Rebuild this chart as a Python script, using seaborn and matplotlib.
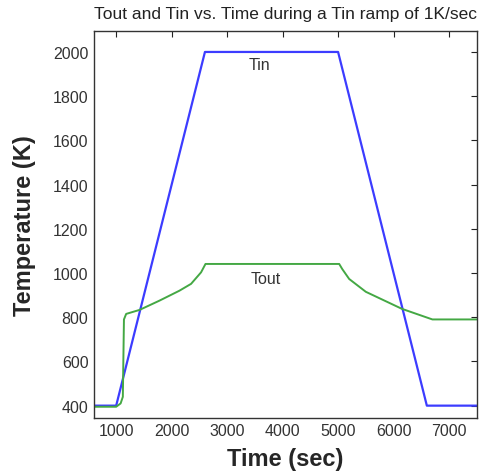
import matplotlib
matplotlib.use("Agg")
import matplotlib.pyplot as plt
import seaborn as sns
import pandas as pd

# Data
tin_time = [600, 1000, 2600, 5000, 6600, 7500]
tin_temp = [400, 400, 2000, 2000, 400, 400]

tout_time = [600, 1000, 1080, 1120, 1140, 1180, 1420, 1780, 2140, 2350, 2530, 2610,
             5020, 5075, 5200, 5500, 6150, 6700, 7500]
tout_temp = [395, 395, 410, 440, 790, 815, 833, 875, 920, 951, 1003, 1041,
             1041, 1018, 973, 915, 838, 790, 790]

x_ticks = [1000, 2000, 3000, 4000, 5000, 6000, 7000]
y_ticks = [400, 600, 800, 1000, 1200, 1400, 1600, 1800, 2000]

title = "Tout and Tin vs. Time during a Tin ramp of 1K/sec"

sns.set_style("white")
plt.rcParams["font.family"] = ["Liberation Sans", "DejaVu Sans"]

df_in = pd.DataFrame({"time": tin_time, "temp": tin_temp})
df_out = pd.DataFrame({"time": tout_time, "temp": tout_temp})

fig = plt.figure(figsize=(4.87, 4.77), dpi=100)
ax = fig.add_axes([0.193, 0.122, 0.786, 0.811])

sns.lineplot(data=df_in, x="time", y="temp", ax=ax, color="#3c3cff", lw=1.6,
             sort=False, estimator=None)
sns.lineplot(data=df_out, x="time", y="temp", ax=ax, color="#44a844", lw=1.4,
             sort=False, estimator=None)

ax.set_xlim(600, 7500)
ax.set_ylim(345, 2095)
ax.set_xticks(x_ticks)
ax.set_yticks(y_ticks)
ax.tick_params(direction="in", length=4, width=0.8, top=True, right=True,
               labelsize=11.5, colors="#222222", pad=4)
for lbl in ax.get_xticklabels() + ax.get_yticklabels():
    lbl.set_color("#333333")
for s in ax.spines.values():
    s.set_color("#333333")
    s.set_linewidth(1.0)
    s.set_visible(True)

ax.set_xlabel("Time (sec)", fontsize=17, fontweight="bold", labelpad=6)
ax.set_ylabel("Temperature (K)", fontsize=17, fontweight="bold", labelpad=12)
ax.set_title(title, fontsize=12.5, pad=9, color="#222222")

ax.text(3577, 1944, "Tin", fontsize=11.5, ha="center", va="center", color="#333333")
ax.text(3698, 973, "Tout", fontsize=11.5, ha="center", va="center", color="#333333")

fig.savefig("out.png", dpi=100)
